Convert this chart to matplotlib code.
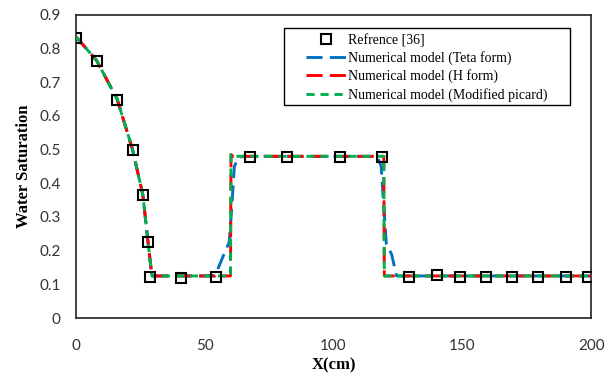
import matplotlib
matplotlib.use("Agg")
import matplotlib.pyplot as plt
from matplotlib.patches import Rectangle

# Reference data (squares)
ref_x = [0, 8.2, 16, 22.2, 26, 28, 28.8, 40.9, 54.5, 67.7, 82.1, 102.7, 118.7,
         129.2, 140, 149, 159, 169.3, 179.4, 190.3, 198.8]
ref_y = [0.832, 0.763, 0.647, 0.499, 0.365, 0.226, 0.122, 0.118, 0.122, 0.478, 0.478, 0.478, 0.478,
         0.122, 0.128, 0.122, 0.122, 0.122, 0.122, 0.122, 0.122]

# Numerical model (Teta form)
teta_x = [0, 8, 16, 22, 26, 28, 29.5, 40, 54, 57.5, 59.5, 60.5, 61.5, 63, 65, 90, 117, 118.5, 119.5, 120.5, 122.5, 124.5, 150, 200]
teta_y = [0.835, 0.765, 0.65, 0.50, 0.365, 0.225, 0.125, 0.125, 0.125, 0.19, 0.225, 0.33, 0.45, 0.475, 0.48, 0.48, 0.48, 0.45, 0.33, 0.22, 0.19, 0.125, 0.125, 0.125]

# Numerical model (H form)
h_x = [0, 8, 16, 22, 26, 28, 29.5, 40, 60, 60.2, 61, 90, 119.5, 119.7, 150, 200]
h_y = [0.835, 0.765, 0.65, 0.50, 0.365, 0.225, 0.125, 0.125, 0.125, 0.485, 0.48, 0.48, 0.48, 0.125, 0.125, 0.125]

# Numerical model (Modified picard)
mp_x = [0, 8, 16, 22, 26, 28, 29.5, 40, 60, 60.2, 61, 90, 119.5, 119.7, 150, 200]
mp_y = [0.835, 0.765, 0.65, 0.50, 0.365, 0.225, 0.125, 0.125, 0.125, 0.485, 0.48, 0.48, 0.48, 0.125, 0.125, 0.125]

fig = plt.figure(figsize=(6.12, 3.8), dpi=100)
ax = fig.add_axes([0.124, 0.163, 0.842, 0.798])

lw = 2.1
ax.plot(teta_x, teta_y, color='#0070C0', lw=lw, dashes=(5.5, 2.5), label='Numerical model (Teta form)', zorder=3)
ax.plot(h_x, h_y, color='#FF0000', lw=lw, dashes=(5.5, 2.5), label='Numerical model (H form)', zorder=4)
ax.plot(mp_x, mp_y, color='#00B050', lw=lw, dashes=(2.8, 2.0), label='Numerical model (Modified picard)', zorder=5)
ax.plot(ref_x, ref_y, ls='none', marker='s', ms=6.5, mfc='none', mec='black', mew=1.5,
        label='Refrence [36]', zorder=6)

ax.set_xlim(0, 200)
ax.set_ylim(0, 0.9)
ax.set_xticks([0, 50, 100, 150, 200])
ax.set_yticks([0, 0.1, 0.2, 0.3, 0.4, 0.5, 0.6, 0.7, 0.8, 0.9])
ax.set_yticklabels(['0', '0.1', '0.2', '0.3', '0.4', '0.5', '0.6', '0.7', '0.8', '0.9'])
ax.tick_params(length=0, labelsize=11, colors='#333333')
ax.tick_params(axis='x', pad=15)
ax.tick_params(axis='y', pad=11)
for lab in ax.get_xticklabels() + ax.get_yticklabels():
    lab.set_fontfamily('Lato')
for s in ax.spines.values():
    s.set_linewidth(1.2)
    s.set_color('#222222')

ax.set_xlabel('X(cm)', fontfamily='Liberation Serif', fontweight='bold', fontsize=12, labelpad=3)
ax.set_ylabel('Water Saturation', fontfamily='Liberation Serif', fontweight='bold', fontsize=12, labelpad=5)

# legend frame
ax.add_patch(Rectangle((0.404, 0.703), 0.555, 0.254, transform=ax.transAxes,
                       facecolor='white', edgecolor='black', lw=1.0, zorder=7))

handles, labels = ax.get_legend_handles_labels()
order = [3, 0, 1, 2]
leg = ax.legend([handles[i] for i in order], [labels[i] for i in order],
                loc='upper left', bbox_to_anchor=(0.447, 0.937),
                prop={'family': 'Liberation Serif', 'size': 10},
                frameon=False,
                handlelength=2.9, handletextpad=0.1, labelspacing=0.3,
                borderpad=0.0, borderaxespad=0)
leg.set_zorder(8)

fig.savefig('out.png', dpi=100)
